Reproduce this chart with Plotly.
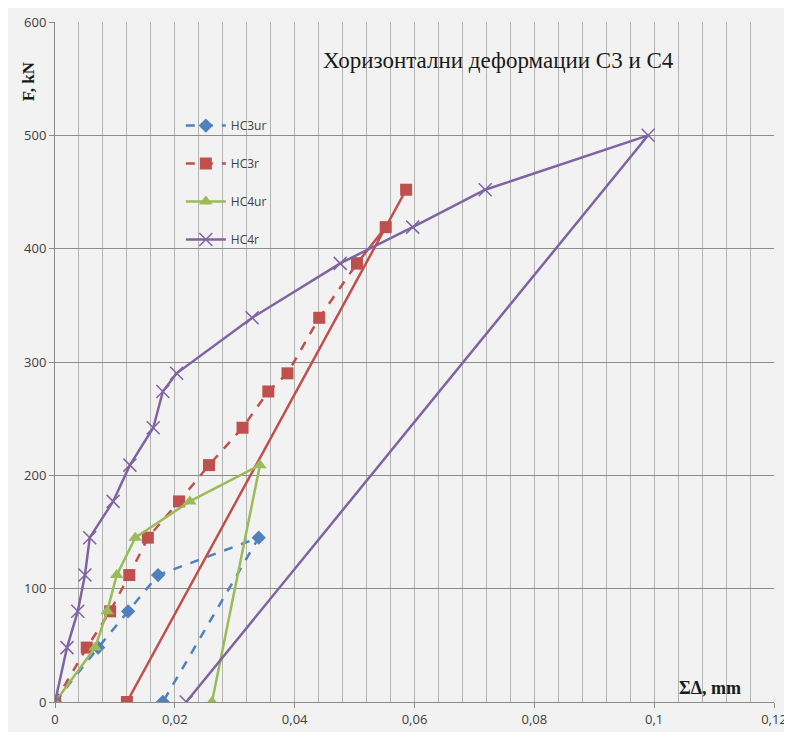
import plotly.graph_objects as go

# horizontal deformations, sum of deltas in mm, load F in kN
hc3ur_x = [0, 0.0072, 0.0122, 0.0172, 0.0340, 0.0180]
hc3ur_y = [0, 48, 80, 112, 145, 0]

hc3r_x = [0, 0.0053, 0.0092, 0.0124, 0.0155, 0.0207, 0.0257, 0.0313, 0.0356,
          0.0388, 0.0441, 0.0504, 0.0552, 0.0586, 0.0120]
hc3r_y = [0, 48, 80, 112, 145, 177, 209, 242, 274, 290, 339, 387, 419, 452, 0]

hc4ur_x = [0, 0.0067, 0.0087, 0.0103, 0.0134, 0.0225, 0.0342, 0.0262]
hc4ur_y = [0, 48, 80, 112, 145, 177, 209, 0]

hc4r_x = [0, 0.0020, 0.0038, 0.0050, 0.0058, 0.0097, 0.0125, 0.0164, 0.0180,
          0.0203, 0.0329, 0.0476, 0.0597, 0.0718, 0.0990, 0.0219]
hc4r_y = [0, 48, 80, 112, 145, 177, 209, 242, 274, 290, 339, 387, 419, 452, 500, 0]

x_ticks = [0, 0.02, 0.04, 0.06, 0.08, 0.1, 0.12]
x_tick_text = ["0", "0,02", "0,04", "0,06", "0,08", "0,1", "0,12"]

BLUE = "#4f81bd"
RED = "#c0504d"
GREEN = "#9bbb59"
PURPLE = "#8064a2"

split = 11  # red series turns solid from the 387 kN point

fig = go.Figure()

fig.add_trace(go.Scatter(
    x=hc3ur_x, y=hc3ur_y, name="HC3ur", mode="lines+markers",
    line=dict(color=BLUE, width=2.5, dash="dash"),
    marker=dict(symbol="diamond", size=11, color=BLUE),
    legendgroup="a",
))
fig.add_trace(go.Scatter(
    x=hc3r_x[:split + 1], y=hc3r_y[:split + 1], name="HC3r", mode="lines+markers",
    line=dict(color=RED, width=2.5, dash="dash"),
    marker=dict(symbol="square", size=12, color=RED),
    legendgroup="b",
))
fig.add_trace(go.Scatter(
    x=hc3r_x[split:], y=hc3r_y[split:], name="HC3r", mode="lines+markers",
    line=dict(color=RED, width=2.5),
    marker=dict(symbol="square", size=12, color=RED),
    legendgroup="b", showlegend=False,
))
fig.add_trace(go.Scatter(
    x=hc4ur_x, y=hc4ur_y, name="HC4ur", mode="lines+markers",
    line=dict(color=GREEN, width=2.5),
    marker=dict(symbol="triangle-up", size=12, color=GREEN),
    legendgroup="c",
))
fig.add_trace(go.Scatter(
    x=hc4r_x, y=hc4r_y, name="HC4r", mode="lines+markers",
    line=dict(color=PURPLE, width=2.5),
    marker=dict(symbol="x-thin-open", size=13, line=dict(color=PURPLE, width=1.5)),
    legendgroup="d",
))

fig.update_layout(
    width=784, height=724,
    margin=dict(l=47, r=18, t=14, b=30),
    paper_bgcolor="#f2f2f2",
    plot_bgcolor="#f2f2f2",
    separators=", ",
    font=dict(family="Open Sans", size=12, color="#404040"),
    showlegend=True,
    legend=dict(
        x=0.175, y=0.869, xanchor="left", yanchor="top",
        bgcolor="rgba(0,0,0,0)", traceorder="grouped", tracegroupgap=19,
        itemwidth=40,
        font=dict(family="Open Sans", size=12, color="#404040"),
    ),
    annotations=[
        dict(text="Хоризонтални деформации С3 и С4", xref="paper", yref="paper",
             x=0.617, y=0.944, xanchor="center", yanchor="middle", showarrow=False,
             font=dict(family="Liberation Serif", size=23, color="#1a1a1a")),
        dict(text="<b>F, kN</b>", xref="paper", yref="paper", textangle=-90,
             x=-0.0376, y=0.913, xanchor="center", yanchor="middle", showarrow=False,
             font=dict(family="Liberation Serif", size=17, color="#1a1a1a")),
        dict(text="<b>ΣΔ, mm</b>", xref="paper", yref="paper",
             x=0.911, y=0.0206, xanchor="center", yanchor="middle", showarrow=False,
             font=dict(family="Liberation Serif", size=18, color="#1a1a1a")),
    ],
)

fig.update_xaxes(
    range=[0, 0.12], tickvals=x_ticks, ticktext=x_tick_text, automargin=False,
    showgrid=True, gridcolor="#b3b3b3", gridwidth=1,
    minor=dict(dtick=0.004, showgrid=True, gridcolor="#b3b3b3", gridwidth=1),
    showline=True, linecolor="#8c8c8c", linewidth=1,
    ticks="outside", ticklen=5, tickcolor="#8c8c8c",
    zeroline=False, tickfont=dict(size=13),
)
fig.update_yaxes(
    range=[0, 600], dtick=100, automargin=False,
    showgrid=True, gridcolor="#8c8c8c", gridwidth=1,
    showline=True, linecolor="#8c8c8c", linewidth=1,
    ticks="outside", ticklen=5, tickcolor="#8c8c8c",
    zeroline=False, tickfont=dict(size=13),
)

fig.write_html("out.html")
